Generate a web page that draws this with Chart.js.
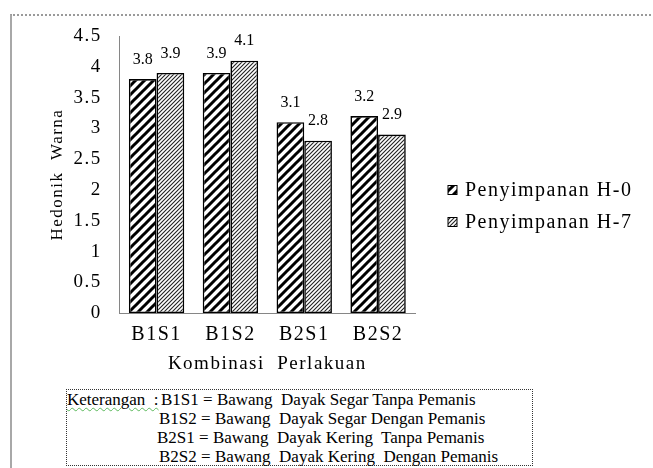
<!DOCTYPE html>
<html>
<head>
<meta charset="utf-8">
<script src="https://cdn.jsdelivr.net/npm/chart.js@4.4.1/dist/chart.umd.min.js"></script>
<style>
  html, body { margin: 0; padding: 0; background: #fff; }
  body { width: 653px; height: 468px; position: relative; overflow: hidden; font-family: "Liberation Serif", "Times New Roman", serif; }
  #frame { position: absolute; left: 10px; top: 14px; right: -5px; bottom: -5px; border-top: 2px dotted #9a9a9a; border-left: 2px solid #a8a8a8; }
  #chart { position: absolute; left: 0; top: 0; }
  #note { position: absolute; left: 66px; top: 389px; width: 467px; height: 77px; box-sizing: border-box; border: 1px dotted #333; font-size: 17px; line-height: 19px; color: #000; }
  #note div { white-space: pre; }
  #note .head { display: inline-block; text-decoration: underline wavy #5cb85c; text-decoration-thickness: 1px; text-underline-offset: 2px; }
</style>
</head>
<body>
<div id="frame"></div>
<canvas id="chart" width="653" height="385"></canvas>
<div id="note"></div>
<script>
const categories = ["B1S1", "B1S2", "B2S1", "B2S2"];
const seriesLabels = ["Penyimpanan H-0", "Penyimpanan H-7"];
const valuesH0 = [3.8, 3.9, 3.1, 3.2];
const valuesH7 = [3.9, 4.1, 2.8, 2.9];
const yTicks = [0, 0.5, 1, 1.5, 2, 2.5, 3, 3.5, 4, 4.5];
const yTitle = "Hedonik  Warna";
const xTitle = "Kombinasi  Perlakuan";
const noteTitle = "Keterangan  :";
const noteCodes = ["B1S1", "B1S2", "B2S1", "B2S2"];
const noteTexts = [
  "Bawang  Dayak Segar Tanpa Pemanis",
  "Bawang  Dayak Segar Dengan Pemanis",
  "Bawang  Dayak Kering  Tanpa Pemanis",
  "Bawang  Dayak Kering  Dengan Pemanis",
];

const serif = "'Liberation Serif', 'Times New Roman', serif";
const canvas = document.querySelector("#chart");
const ctx = canvas.getContext("2d");

function hatch(size, width, color) {
  const tile = document.createElement("canvas");
  tile.width = size;
  tile.height = size;
  const g = tile.getContext("2d");
  g.fillStyle = "#fff";
  g.fillRect(0, 0, size, size);
  g.strokeStyle = color;
  g.lineWidth = width;
  g.beginPath();
  g.moveTo(-1, size + 1);
  g.lineTo(size + 1, -1);
  g.moveTo(-size / 2 - 1, size / 2 + 1);
  g.lineTo(size / 2 + 1, -size / 2 - 1);
  g.moveTo(size / 2 - 1, size * 1.5 + 1);
  g.lineTo(size * 1.5 + 1, size / 2 - 1);
  g.stroke();
  return ctx.createPattern(tile, "repeat");
}

// excel spreads its text a little
const spacing = {
  id: "spacing",
  beforeLayout(chart) {
    chart.ctx.letterSpacing = "1.5px";
  },
  beforeDraw(chart) {
    chart.ctx.letterSpacing = "1.5px";
  },
};

const barValues = {
  id: "barValues",
  afterDatasetsDraw(chart) {
    const c = chart.ctx;
    c.save();
    c.letterSpacing = "0px";
    c.font = "16px " + serif;
    c.fillStyle = "#000";
    c.textAlign = "center";
    c.textBaseline = "middle";
    chart.data.datasets.forEach((dataset, i) => {
      chart.getDatasetMeta(i).data.forEach((bar, j) => {
        c.fillText(String(dataset.data[j]), bar.x, bar.y - 19.5);
      });
    });
    c.restore();
  },
};

// the legend sits beside the plot, a bit below its middle
const sideLegend = {
  id: "sideLegend",
  afterDraw(chart) {
    const c = chart.ctx;
    const area = chart.chartArea;
    const x = area.right + 33;
    c.save();
    c.font = "20px " + serif;
    c.textAlign = "left";
    c.textBaseline = "middle";
    chart.data.datasets.forEach((dataset, i) => {
      const y = area.top + 154 + i * 32;
      c.fillStyle = dataset.backgroundColor;
      c.fillRect(x, y - 4.5, 9, 9);
      c.strokeStyle = "#000";
      c.lineWidth = 1;
      c.strokeRect(x, y - 4.5, 9, 9);
      c.fillStyle = "#000";
      c.fillText(dataset.label, x + 17, y + 1);
    });
    c.restore();
  },
};

function renderChart() {
  return new Chart(ctx, {
    type: "bar",
    data: {
      labels: categories,
      datasets: [
        {
          label: seriesLabels[0],
          data: valuesH0,
          backgroundColor: hatch(9, 3, "#000"),
          borderColor: "#000",
          borderWidth: 1.6,
          borderSkipped: false,
        },
        {
          label: seriesLabels[1],
          data: valuesH7,
          backgroundColor: hatch(4, 1.1, "#222"),
          borderColor: "#000",
          borderWidth: 1.6,
          borderSkipped: false,
        },
      ],
    },
    options: {
      responsive: false,
      animation: false,
      devicePixelRatio: 1,
      categoryPercentage: 0.75,
      barPercentage: 1,
      layout: {
        padding: { left: 47, top: 36, right: 238, bottom: 10 },
      },
      scales: {
        x: {
          grid: { display: false, drawTicks: false },
          border: { display: true, color: "#868686", width: 1 },
          ticks: {
            padding: 10,
            color: "#000",
            maxRotation: 0,
            font: { family: serif, size: 20 },
          },
          title: {
            display: true,
            text: xTitle,
            color: "#000",
            font: { family: serif, size: 19 },
            padding: { top: -5, bottom: 0 },
          },
        },
        y: {
          min: 0,
          max: 4.5,
          afterBuildTicks: (axis) => {
            axis.ticks = yTicks.map((v) => ({ value: v }));
          },
          grid: { display: false, drawTicks: false },
          border: { display: true, color: "#868686", width: 1 },
          ticks: {
            padding: 18,
            color: "#000",
            font: { family: serif, size: 19 },
            callback: (v) => String(v),
          },
          title: {
            display: true,
            text: yTitle,
            color: "#000",
            font: { family: serif, size: 17 },
            padding: { top: 0, bottom: -12 },
          },
        },
      },
      plugins: {
        legend: { display: false },
        tooltip: { enabled: false },
      },
    },
    plugins: [spacing, barValues, sideLegend],
  });
}

function renderNote() {
  const note = document.querySelector("#note");
  const offsets = [0, 92, 90, 92];
  noteCodes.forEach((code, i) => {
    const line = document.createElement("div");
    if (i === 0) {
      const head = document.createElement("span");
      head.className = "head";
      head.style.width = "94px";
      head.textContent = noteTitle;
      line.appendChild(head);
    } else {
      line.style.paddingLeft = offsets[i] + "px";
    }
    line.appendChild(document.createTextNode(code + " = " + noteTexts[i]));
    note.appendChild(line);
  });
}

renderNote();
renderChart();
</script>
</body>
</html>
